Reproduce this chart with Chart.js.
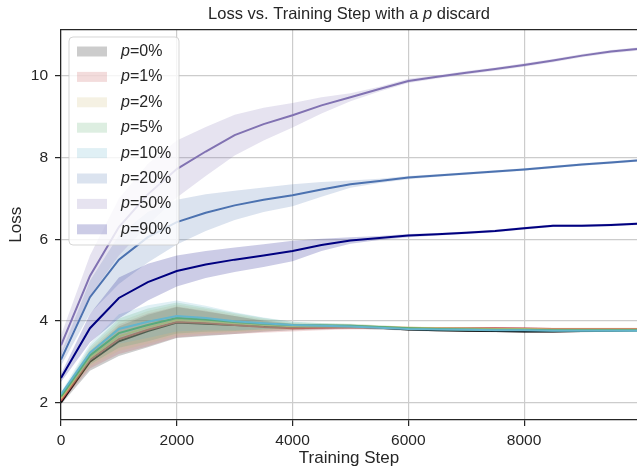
<!DOCTYPE html>
<html>
<head>
<meta charset="utf-8">
<script src="https://cdn.jsdelivr.net/npm/chart.js@4.4.1/dist/chart.umd.min.js"></script>
<style>
  html, body { margin: 0; padding: 0; background: #fff; }
  #wrap { position: relative; width: 637px; height: 473px; }
</style>
</head>
<body>
<div id="wrap"><canvas id="lossChart"></canvas></div>
<script>
// training steps (x) and mean loss per discard probability
const steps = [0, 500, 1000, 1500, 2000, 2500, 3000, 3500, 4000, 4500, 5000, 5500, 6000, 6500, 7000, 7500, 8000, 8500, 9000, 9500, 9950];
const pLabels = ["0%", "1%", "2%", "5%", "10%", "20%", "50%", "90%"];

const lossP0  = [2.00, 3.00, 3.50, 3.75, 3.96, 3.93, 3.90, 3.87, 3.85, 3.85, 3.86, 3.83, 3.79, 3.77, 3.76, 3.75, 3.74, 3.74, 3.75, 3.76, 3.77];
const lossP1  = [2.05, 3.05, 3.55, 3.78, 3.97, 3.95, 3.90, 3.85, 3.82, 3.83, 3.84, 3.83, 3.82, 3.82, 3.82, 3.82, 3.81, 3.80, 3.80, 3.80, 3.80];
const lossP2  = [2.10, 3.10, 3.62, 3.84, 4.02, 3.99, 3.94, 3.90, 3.87, 3.87, 3.87, 3.85, 3.83, 3.82, 3.81, 3.80, 3.80, 3.79, 3.79, 3.79, 3.79];
const lossP5  = [2.15, 3.15, 3.70, 3.90, 4.07, 4.03, 3.97, 3.93, 3.90, 3.89, 3.88, 3.85, 3.82, 3.80, 3.79, 3.78, 3.78, 3.77, 3.77, 3.77, 3.77];
const lossP10 = [2.20, 3.22, 3.80, 3.98, 4.12, 4.07, 3.99, 3.94, 3.90, 3.88, 3.86, 3.83, 3.80, 3.79, 3.78, 3.77, 3.77, 3.76, 3.76, 3.76, 3.76];
const lossP20 = [3.05, 4.58, 5.50, 6.05, 6.42, 6.65, 6.83, 6.97, 7.08, 7.22, 7.35, 7.43, 7.51, 7.56, 7.61, 7.66, 7.71, 7.77, 7.83, 7.88, 7.93];
const lossP50 = [3.40, 5.10, 6.30, 7.10, 7.72, 8.15, 8.55, 8.82, 9.04, 9.28, 9.48, 9.68, 9.88, 9.98, 10.08, 10.17, 10.27, 10.38, 10.50, 10.60, 10.66];
const lossP90 = [2.60, 3.82, 4.56, 4.95, 5.22, 5.38, 5.50, 5.60, 5.71, 5.86, 5.97, 6.03, 6.09, 6.12, 6.16, 6.20, 6.27, 6.33, 6.33, 6.35, 6.38];

// half width of the shaded band around each mean
const spreadLow = [0.05, 0.22, 0.36, 0.40, 0.38, 0.30, 0.22, 0.14, 0.08, 0.06, 0.05, 0.04, 0.03, 0.03, 0.03, 0.03, 0.03, 0.03, 0.03, 0.03, 0.03];
const spreadP20 = [0.15, 0.40, 0.60, 0.62, 0.55, 0.45, 0.36, 0.30, 0.27, 0.18, 0.09, 0.05, 0.04, 0.03, 0.03, 0.03, 0.03, 0.03, 0.03, 0.03, 0.03];
const spreadP50 = [0.25, 0.50, 0.70, 0.75, 0.70, 0.60, 0.50, 0.40, 0.30, 0.20, 0.10, 0.06, 0.05, 0.04, 0.04, 0.04, 0.04, 0.04, 0.04, 0.04, 0.04];
const spreadP90 = [0.10, 0.35, 0.50, 0.45, 0.38, 0.33, 0.30, 0.28, 0.25, 0.15, 0.08, 0.05, 0.04, 0.03, 0.03, 0.03, 0.03, 0.03, 0.03, 0.03, 0.03];

const xTicks = [0, 2000, 4000, 6000, 8000];
const yTicks = [2, 4, 6, 8, 10];

const FONT = "'Liberation Sans', Arial, sans-serif";
const INK = "#262626";

const series = [
    { pct: pLabels[0], mean: lossP0,  spread: spreadLow, color: "#000000" },
    { pct: pLabels[1], mean: lossP1,  spread: spreadLow, color: "#C44E52" },
    { pct: pLabels[2], mean: lossP2,  spread: spreadLow, color: "#CCB974" },
    { pct: pLabels[3], mean: lossP5,  spread: spreadLow, color: "#55A868" },
    { pct: pLabels[4], mean: lossP10, spread: spreadLow, color: "#64B5CD" },
    { pct: pLabels[5], mean: lossP20, spread: spreadP20, color: "#4C72B0" },
    { pct: pLabels[6], mean: lossP50, spread: spreadP50, color: "#8172B2" },
    { pct: pLabels[7], mean: lossP90, spread: spreadP90, color: "#000080" },
];

function rgba(hex, a) {
    const n = parseInt(hex.slice(1), 16);
    return `rgba(${(n >> 16) & 255}, ${(n >> 8) & 255}, ${n & 255}, ${a})`;
}

const datasets = [];
series.forEach((s, i) => {
    // later series sit on top, like matplotlib draw order
    datasets.push({
        label: "upper " + s.pct,
        data: steps.map((x, k) => ({ x, y: s.mean[k] + s.spread[k] })),
        borderWidth: 0, borderColor: "rgba(0,0,0,0)", pointRadius: 0, fill: false,
        order: -(i * 3),
    });
    datasets.push({
        label: "lower " + s.pct,
        data: steps.map((x, k) => ({ x, y: s.mean[k] - s.spread[k] })),
        borderWidth: 0, borderColor: "rgba(0,0,0,0)", pointRadius: 0,
        fill: "-1", backgroundColor: rgba(s.color, 0.2),
        order: -(i * 3 + 1),
    });
    datasets.push({
        label: "p=" + s.pct,
        data: steps.map((x, k) => ({ x, y: s.mean[k] })),
        borderColor: s.color, borderWidth: 2, pointRadius: 0, fill: false,
        order: -(i * 3 + 2),
    });
});

// title with italic p, top spine and the legend box
const decorPlugin = {
    id: "decor",
    afterDatasetsDraw(chart) {
        const { ctx, chartArea: a } = chart;
        ctx.save();
        ctx.strokeStyle = INK;
        ctx.lineWidth = 1.25;
        ctx.beginPath();
        ctx.moveTo(a.left, a.top);
        ctx.lineTo(a.right, a.top);
        ctx.stroke();
        ctx.restore();
    },
    afterDraw(chart) {
        const { ctx, chartArea: a } = chart;
        ctx.save();

        // title
        const size = 16.5;
        const parts = [
            ["Loss vs. Training Step with a ", "normal"],
            ["p", "italic"],
            [" discard", "normal"],
        ];
        let total = 0;
        parts.forEach(([t, st]) => { ctx.font = `${st} ${size}px ${FONT}`; total += ctx.measureText(t).width; });
        let tx = (a.left + a.right) / 2 - total / 2;
        ctx.fillStyle = INK;
        ctx.textBaseline = "alphabetic";
        ctx.textAlign = "left";
        parts.forEach(([t, st]) => {
            ctx.font = `${st} ${size}px ${FONT}`;
            ctx.fillText(t, tx, 18.5);
            tx += ctx.measureText(t).width;
        });

        // legend
        const lx = a.left + 8, ly = a.top + 7.5, lw = 110, lh = 208;
        ctx.beginPath();
        ctx.roundRect(lx, ly, lw, lh, 4);
        ctx.fillStyle = "rgba(255,255,255,0.8)";
        ctx.fill();
        ctx.strokeStyle = "rgba(204,204,204,0.8)";
        ctx.lineWidth = 1;
        ctx.stroke();

        ctx.textBaseline = "middle";
        series.forEach((s, i) => {
            const cy = ly + 14.5 + i * 25.4;
            ctx.fillStyle = rgba(s.color, 0.2);
            ctx.fillRect(lx + 8, cy - 5, 30, 10);
            ctx.fillStyle = INK;
            ctx.font = `italic 16px ${FONT}`;
            ctx.fillText("p", lx + 52, cy);
            const pw = ctx.measureText("p").width;
            ctx.font = `normal 16px ${FONT}`;
            ctx.fillText("=" + s.pct, lx + 52 + pw, cy);
        });
        ctx.restore();
    },
};

Chart.defaults.font.family = FONT;
Chart.defaults.color = INK;

new Chart(document.getElementById("lossChart"), {
    type: "line",
    data: { datasets },
    options: {
        responsive: true,
        maintainAspectRatio: false,
        animation: false,
        events: [],
        layout: { padding: { top: 29.5, right: 0, left: 0, bottom: 0 } },
        elements: { line: { tension: 0 } },
        plugins: {
            legend: { display: false },
            title: { display: false },
            tooltip: { enabled: false },
            filler: { propagate: false },
        },
        scales: {
            x: {
                type: "linear",
                min: 0,
                max: 9950,
                afterFit(scale) { scale.height = 53; },
                afterBuildTicks(scale) { scale.ticks = xTicks.map(v => ({ value: v })); },
                ticks: {
                    font: { size: 15.5 },
                    color: INK,
                    padding: 5,
                    maxRotation: 0,
                    callback: v => String(v),
                },
                grid: { color: "#cccccc", lineWidth: 1.2, tickColor: INK, tickLength: 6, tickWidth: 1.25 },
                border: { color: INK, width: 1.25 },
                title: {
                    display: true,
                    text: "Training Step",
                    font: { size: 17 },
                    color: INK,
                    padding: { top: 4, bottom: 4 },
                },
            },
            y: {
                min: 1.57,
                max: 11.14,
                afterFit(scale) { scale.width = 61; },
                afterBuildTicks(scale) { scale.ticks = yTicks.map(v => ({ value: v })); },
                ticks: {
                    font: { size: 15.5 },
                    color: INK,
                    padding: 7,
                    callback: v => String(v),
                },
                grid: { color: "#cccccc", lineWidth: 1.2, tickColor: INK, tickLength: 6, tickWidth: 1.25 },
                border: { color: INK, width: 1.25 },
                title: {
                    display: true,
                    text: "Loss",
                    font: { size: 17 },
                    color: INK,
                    padding: { top: 6, bottom: 4 },
                },
            },
        },
    },
    plugins: [decorPlugin],
});
</script>
</body>
</html>
